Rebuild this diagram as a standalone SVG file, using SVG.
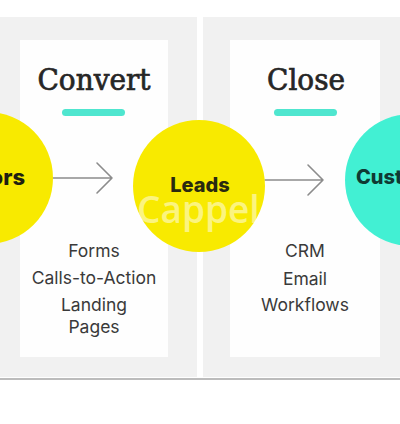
<svg xmlns="http://www.w3.org/2000/svg" width="400" height="424" viewBox="0 0 400 424">
<style>
.panel{fill:#f1f1f1}
.card{fill:#fefefe}
.title{font-family:"DejaVu Serif","Liberation Serif",serif;font-size:29px;fill:#262626;stroke:#262626;stroke-width:0.7;text-anchor:middle}
.bar{fill:#4fe6cf}
.item{font-family:Inter,"Noto Sans",sans-serif;font-size:17.5px;fill:#3a3a3a;text-anchor:middle}
.lbl{font-family:Inter,"Noto Sans",sans-serif;font-weight:800;font-size:20px}
.conn{fill:none;stroke:#8c8c8c;stroke-width:1.6;stroke-linecap:round;stroke-linejoin:round}
.wm{font-family:"Open Sans",sans-serif;font-weight:600;font-size:37px;fill:#ffffff;fill-opacity:0.5}
</style>
<rect width="400" height="424" fill="#ffffff"/>
<g id="stage-convert">
<rect class="panel" x="0" y="17" width="197" height="360"/>
<rect class="card" x="20" y="40" width="148" height="317"/>
<text class="title" x="94" y="90" textLength="113" lengthAdjust="spacingAndGlyphs">Convert</text>
<rect class="bar" x="62" y="109" width="63" height="7" rx="3.5"/>
<text class="item" x="94" y="257">Forms</text>
<text class="item" x="94" y="284">Calls-to-Action</text>
<text class="item" x="94" y="311">Landing</text>
<text class="item" x="94" y="333">Pages</text>
</g>
<g id="stage-close">
<rect class="panel" x="203" y="17" width="197" height="360"/>
<rect class="card" x="230" y="40" width="150" height="317"/>
<text class="title" x="306" y="90" textLength="78" lengthAdjust="spacingAndGlyphs">Close</text>
<rect class="bar" x="274" y="109" width="63" height="7" rx="3.5"/>
<text class="item" x="305" y="257">CRM</text>
<text class="item" x="305" y="285">Email</text>
<text class="item" x="305" y="311">Workflows</text>
</g>
<line x1="0" y1="379" x2="400" y2="379" stroke="#bcbcbc" stroke-width="2"/>
<g id="connectors">
<path class="conn" d="M53 178H112M97 163L112 178L97 193"/>
<path class="conn" d="M265 180H323M308 165L323 180L308 195"/>
</g>
<g id="node-visitors">
<circle cx="-13" cy="178" r="66" fill="#f8ea00"/>
<text class="lbl" x="25" y="185" text-anchor="end" fill="#1f1f10" style="font-size:22px">Visitors</text>
</g>
<g id="node-leads">
<circle cx="199" cy="186" r="66" fill="#f8ea00"/>
<text class="lbl" x="200" y="192" text-anchor="middle" fill="#2a2a10">Leads</text>
</g>
<g id="node-customers">
<circle cx="411" cy="180" r="66" fill="#42f0d3"/>
<text class="lbl" x="356" y="184" fill="#0f3a33">Customers</text>
</g>
<text class="wm" x="137" y="223">Cappel</text>
</svg>
